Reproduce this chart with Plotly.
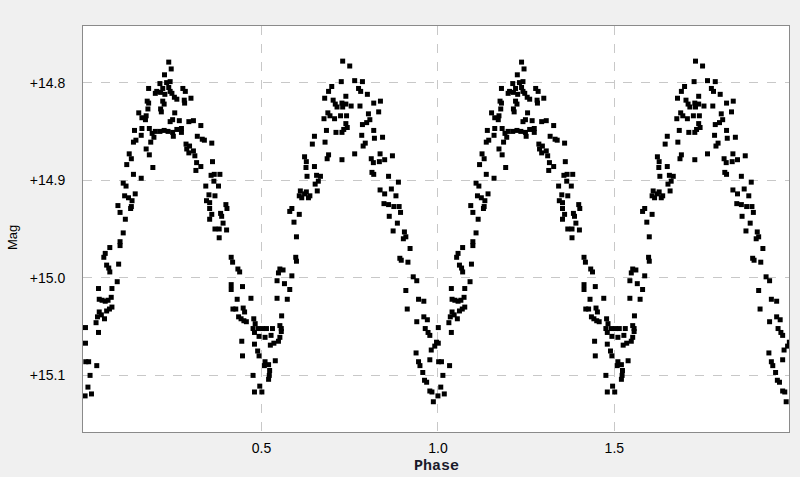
import plotly.graph_objects as go

# Phase-folded light curve (one cycle, phase 0..1); the chart shows it twice (0..2)
phase = [
    0.237, 0.244, 0.225, 0.212, 0.231, 0.241, 0.180, 0.203, 0.220, 0.237, 0.241, 0.277, 0.284, 0.199, 0.214,
    0.226, 0.246, 0.253, 0.260, 0.281, 0.300, 0.176, 0.220, 0.224, 0.282, 0.214, 0.180, 0.178, 0.173, 0.161,
    0.152, 0.216, 0.254, 0.171, 0.241, 0.248, 0.267, 0.294, 0.307, 0.140, 0.161, 0.182, 0.199, 0.212, 0.224,
    0.235, 0.248, 0.260, 0.273, 0.159, 0.190, 0.195, 0.250, 0.273, 0.318, 0.137, 0.144, 0.186, 0.286, 0.296,
    0.173, 0.182, 0.125, 0.288, 0.307, 0.311, 0.294, 0.118, 0.131, 0.192, 0.316, 0.314, 0.137, 0.159, 0.108,
    0.116, 0.112, 0.123, 0.142, 0.133, 0.093, 0.131, 0.099, 0.114, 0.129,
    0.108, 0.099, 0.099, 0.070, 0.057, 0.053, 0.061, 0.095, 0.067, 0.070, 0.091, 0.038, 0.076, 0.074, 0.040,
    0.048, 0.057, 0.065, 0.076, 0.069, 0.061, 0.040, 0.046, 0.035, 0.055, 0.031, 0.038, 0.001, 0.001, 0.002,
    0.010, 0.033, 0.014, 0.008, 0.018, 0.000,
    0.328, 0.332, 0.338, 0.359, 0.328, 0.361, 0.357, 0.366, 0.382, 0.365, 0.342, 0.378, 0.351, 0.368, 0.344,
    0.353, 0.399, 0.402, 0.353, 0.359, 0.384, 0.387, 0.353, 0.391,
    0.650, 0.644, 0.622, 0.627, 0.650, 0.626, 0.629, 0.656, 0.661, 0.652, 0.658, 0.610, 0.622, 0.637, 0.633,
    0.614, 0.607, 0.627, 0.580, 0.586, 0.607, 0.592,
    0.380, 0.401, 0.368, 0.380, 0.414, 0.418, 0.433, 0.438, 0.414, 0.414, 0.446, 0.431, 0.470, 0.419, 0.427,
    0.448, 0.452, 0.435, 0.442, 0.450, 0.457, 0.478, 0.482, 0.476, 0.491, 0.503, 0.480, 0.493, 0.444, 0.480,
    0.446, 0.489, 0.493, 0.510, 0.508, 0.520, 0.539, 0.523, 0.522, 0.520, 0.476, 0.495, 0.501, 0.480,
    0.599, 0.597, 0.599, 0.552, 0.561, 0.548, 0.586, 0.544, 0.565, 0.580, 0.544, 0.573, 0.557, 0.552, 0.556,
    0.531, 0.514, 0.510, 0.527, 0.552, 0.548, 0.525, 0.535, 0.556,
    0.730, 0.750, 0.726, 0.764, 0.786, 0.699, 0.690, 0.775, 0.781, 0.800, 0.739, 0.679, 0.703, 0.728, 0.739,
    0.754, 0.779, 0.818, 0.837, 0.832, 0.709, 0.714, 0.730, 0.688, 0.694, 0.677, 0.707, 0.724, 0.741, 0.803,
    0.807, 0.798, 0.786, 0.739, 0.743, 0.733, 0.728, 0.684, 0.711, 0.818, 0.784, 0.820, 0.843, 0.680, 0.794,
    0.788, 0.690, 0.686, 0.728, 0.764, 0.836, 0.871, 0.811, 0.817, 0.834, 0.849, 0.813, 0.818, 0.860, 0.888,
    0.836, 0.849, 0.868, 0.881, 0.847, 0.860, 0.875, 0.890, 0.894, 0.862, 0.885, 0.667,
    0.873, 0.905, 0.902, 0.909, 0.921, 0.892, 0.896, 0.915, 0.930, 0.940, 0.909, 0.945, 0.960, 0.913, 0.940,
    0.960, 0.970, 0.964, 0.972, 0.977, 0.996, 0.991, 0.981, 0.938, 0.945, 0.949, 0.977, 0.957, 0.962, 0.968,
    0.977, 0.983, 0.987,
]

mag = [
    14.779, 14.786, 14.792, 14.801, 14.800, 14.799, 14.806, 14.809, 14.806, 14.805, 14.809, 14.806, 14.809, 14.811, 14.810,
    14.812, 14.811, 14.815, 14.817, 14.818, 14.816, 14.819, 14.819, 14.822, 14.821, 14.827, 14.821, 14.827, 14.834, 14.836,
    14.831, 14.830, 14.831, 14.838, 14.840, 14.838, 14.839, 14.840, 14.839, 14.849, 14.847, 14.847, 14.850, 14.850, 14.849,
    14.850, 14.851, 14.848, 14.847, 14.854, 14.852, 14.856, 14.855, 14.851, 14.855, 14.861, 14.859, 14.861, 14.863, 14.865,
    14.868, 14.874, 14.873, 14.868, 14.870, 14.875, 14.872, 14.884, 14.878, 14.887, 14.882, 14.890, 14.894, 14.898, 14.903,
    14.906, 14.916, 14.918, 14.914, 14.921, 14.926, 14.927, 14.933, 14.940, 14.929,
    14.954, 14.963, 14.967, 14.969, 14.975, 14.979, 14.987, 14.986, 14.990, 14.994, 15.004, 15.011, 15.011, 15.020, 15.022,
    15.023, 15.024, 15.023, 15.030, 15.032, 15.034, 15.035, 15.038, 15.040, 15.042, 15.046, 15.056, 15.051, 15.067, 15.086,
    15.086, 15.090, 15.100, 15.112, 15.119, 15.121,
    14.844, 14.858, 14.859, 14.862, 14.886, 14.881, 14.895, 14.894, 14.894, 14.901, 14.906, 14.906, 14.915, 14.916, 14.921,
    14.923, 14.925, 14.929, 14.929, 14.935, 14.934, 14.937, 14.940, 14.944,
    14.855, 14.863, 14.876, 14.881, 14.886, 14.887, 14.896, 14.895, 14.901, 14.904, 14.911, 14.911, 14.914, 14.916, 14.918,
    14.918, 14.916, 14.912, 14.932, 14.929, 14.935, 14.943,
    14.950, 14.951, 14.950, 14.959, 14.979, 14.984, 14.991, 14.994, 15.007, 15.012, 15.009, 15.022, 15.021, 15.032, 15.032,
    15.031, 15.035, 15.040, 15.042, 15.044, 15.045, 15.042, 15.047, 15.052, 15.052, 15.052, 15.056, 15.060, 15.065, 15.068,
    15.080, 15.075, 15.080, 15.086, 15.090, 15.089, 15.085, 15.095, 15.100, 15.104, 15.100, 15.111, 15.117, 15.117,
    14.958, 14.979, 14.983, 14.991, 14.992, 14.995, 14.998, 15.003, 15.006, 15.012, 15.021, 15.022, 15.039, 15.049, 15.052,
    15.052, 15.052, 15.061, 15.059, 15.061, 15.065, 15.069, 15.067, 15.055,
    14.778, 14.783, 14.799, 14.798, 14.799, 14.804, 14.809, 14.806, 14.809, 14.812, 14.814, 14.816, 14.818, 14.821, 14.822,
    14.824, 14.824, 14.821, 14.819, 14.830, 14.822, 14.825, 14.825, 14.831, 14.834, 14.837, 14.837, 14.834, 14.834, 14.832,
    14.838, 14.841, 14.843, 14.842, 14.846, 14.848, 14.851, 14.849, 14.851, 14.849, 14.854, 14.857, 14.856, 14.861, 14.862,
    14.865, 14.874, 14.878, 14.879, 14.873, 14.873, 14.875, 14.878, 14.882, 14.881, 14.879, 14.892, 14.894, 14.896, 14.902,
    14.910, 14.914, 14.909, 14.916, 14.924, 14.925, 14.927, 14.927, 14.933, 14.937, 14.944, 14.896,
    14.952, 14.953, 14.960, 14.958, 14.970, 14.980, 14.982, 14.984, 14.999, 15.003, 15.013, 15.022, 15.024, 15.032, 15.045,
    15.040, 15.043, 15.052, 15.056, 15.059, 15.066, 15.070, 15.074, 15.077, 15.086, 15.090, 15.084, 15.097, 15.105, 15.107,
    15.116, 15.117, 15.127,
]

x_ticks = [0.5, 1.0, 1.5]
x_tick_labels = ["0.5", "1.0", "1.5"]
y_ticks = [14.8, 14.9, 15.0, 15.1]
y_tick_labels = ["+14.8", "+14.9", "+15.0", "+15.1"]

x_all = phase + [p + 1 for p in phase]
y_all = mag + mag

fig = go.Figure()
fig.add_trace(go.Scatter(
    x=x_all, y=y_all, mode="markers",
    marker=dict(symbol="square", size=5, color="black", line=dict(width=0)),
    hoverinfo="skip", showlegend=False,
))

grid_color = "#c8c8c8"
fig.update_layout(
    width=800, height=477,
    paper_bgcolor="#f0f0f0", plot_bgcolor="white",
    margin=dict(l=83, r=11, t=26, b=45, autoexpand=False),
    font=dict(family="Liberation Sans, Arial, sans-serif", color="black"),
    xaxis=dict(
        range=[-0.006, 1.995],
        tickvals=x_ticks, ticktext=x_tick_labels,
        tickfont=dict(size=14, family="Liberation Sans, Arial, sans-serif"),
        ticks="outside", ticklen=3, tickcolor="rgba(0,0,0,0)",
        showgrid=True, gridcolor=grid_color, griddash="dash", gridwidth=1,
        showline=True, linecolor="#8a8a8a", linewidth=1, mirror=True,
        zeroline=False, automargin=False,
    ),
    yaxis=dict(
        range=[15.158, 14.742],
        tickvals=y_ticks, ticktext=y_tick_labels,
        tickfont=dict(size=14, family="Liberation Sans, Arial, sans-serif"),
        ticks="outside", ticklen=14, tickcolor="rgba(0,0,0,0)",
        showgrid=True, gridcolor=grid_color, griddash="dash", gridwidth=1,
        showline=True, linecolor="#8a8a8a", linewidth=1, mirror=True,
        zeroline=False, automargin=False,
    ),
    annotations=[
        dict(text="<b>Phase</b>", xref="paper", yref="paper", x=0.5, y=-0.086,
             xanchor="center", yanchor="middle", showarrow=False,
             font=dict(family="'Courier New', 'Liberation Mono', monospace", size=15, color="#1a1a2a")),
        dict(text="Mag", xref="paper", yref="paper", x=-0.1006, y=0.48,
             xanchor="center", yanchor="middle", showarrow=False, textangle=-90,
             font=dict(family="Liberation Sans, Arial, sans-serif", size=13, color="black")),
    ],
)

fig.write_html(
    "out.html",
    config={"displayModeBar": False},
    post_script="document.body.style.margin='0';document.body.style.overflow='hidden';document.body.style.background='#f0f0f0';",
)
